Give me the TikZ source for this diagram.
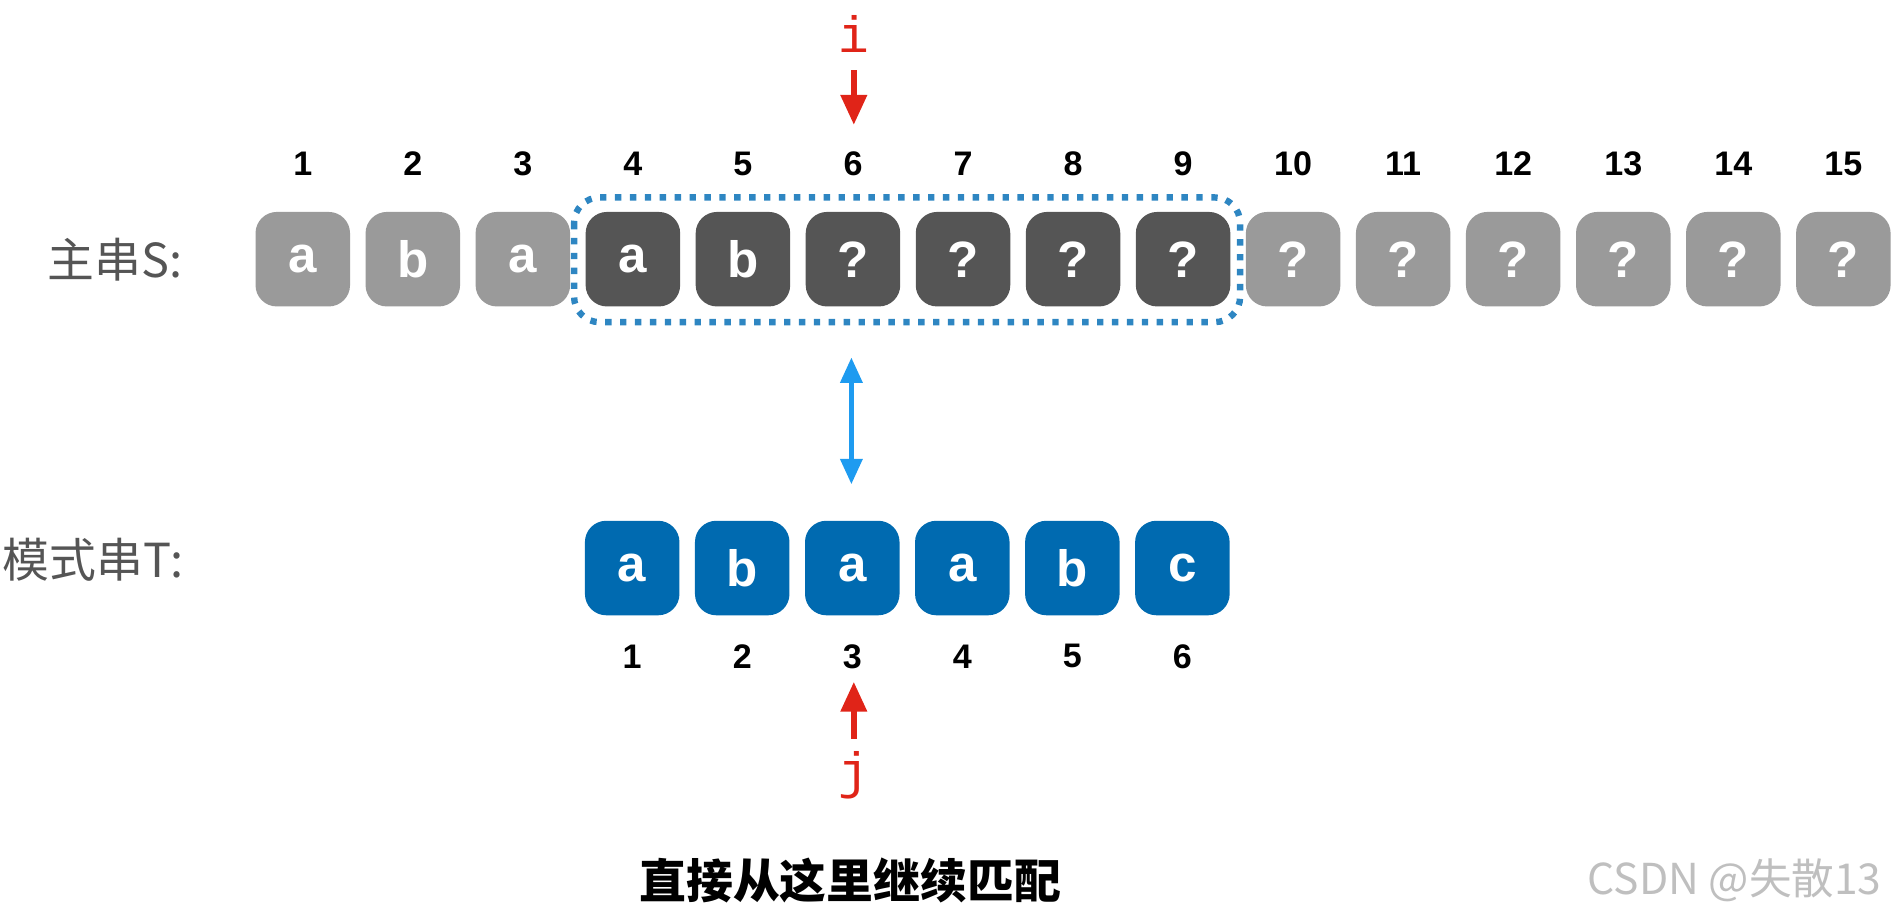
\documentclass[tikz,border=0pt]{standalone}
\usepackage{fontspec}
\setmainfont{Liberation Sans}
\newfontfamily\cjk{Noto Sans CJK SC}
\newfontfamily\cour{Liberation Mono}
\usetikzlibrary{arrows.meta}
\definecolor{lightgrey}{HTML}{9A9A9A}
\definecolor{darkgrey}{HTML}{555555}
\definecolor{patblue}{HTML}{006AB0}
\definecolor{ptrred}{HTML}{E02418}
\definecolor{linkblue}{HTML}{1E9BF0}
\tikzset{
  cell/.style={rounded corners=5pt, minimum width=0.78cm, minimum height=0.78cm,
    inner sep=0pt, text=white, font=\fontsize{12}{12}\selectfont\bfseries},
  idx/.style={font=\fontsize{8}{8}\selectfont\bfseries},
  ptr/.style={text=ptrred, font=\cour\fontsize{12}{12}\selectfont},
}
\begin{document}
\begin{tikzpicture}[x=0.01cm, y=-0.01cm]
  \useasboundingbox (0,0) rectangle (1568,753);

  % main string S
  \node[font=\cjk\fontsize{11}{11}\selectfont, text=darkgrey] (slabel) at (95,214) {主串S:};
  \foreach \k/\c in {1/a,2/b,3/a,4/a,5/b,6/?,7/?,8/?,9/?,10/?,11/?,12/?,13/?,14/?,15/?} {
    \ifnum\k<4 \def\col{lightgrey}\else\ifnum\k<10 \def\col{darkgrey}\else\def\col{lightgrey}\fi\fi
    \node[cell, fill=\col] (s\k) at ({250+90.86*(\k-1)},214) {\c};
    \node[idx] (sn\k) at ({250+90.86*(\k-1)},135) {\k};
  }
  \draw[linkblue!70!darkgrey, line width=1.5pt, dotted, rounded corners=6pt]
    (474,163) rectangle (1024,266);

  % pattern T
  \node[font=\cjk\fontsize{11}{11}\selectfont, text=darkgrey] (tlabel) at (77,462) {模式串T:};
  \foreach \k/\c in {1/a,2/b,3/a,4/a,5/b,6/c} {
    \node[cell, fill=patblue] (t\k) at ({522+90.86*(\k-1)},469) {\c};
    \node[idx] (tn\k) at ({522+90.86*(\k-1)},542) {\k};
  }

  % pointers
  \node[ptr] (i) at (705,28) {i};
  \coordinate (itop) at (705,58);
  \coordinate (ibot) at (705,103);
  \draw[ptrred, line width=1.3pt, -{Triangle[length=7pt,width=6pt]}] (itop) -- (ibot);
  \node[ptr] (j) at (705,640) {j};
  \coordinate (jbot) at (705,610);
  \coordinate (jtop) at (705,563);
  \draw[ptrred, line width=1.3pt, -{Triangle[length=7pt,width=6pt]}] (jbot) -- (jtop);
  \coordinate (ltop) at (703,295);
  \coordinate (lbot) at (703,400);
  \draw[linkblue, line width=1.3pt, {Triangle[length=6pt,width=5pt]}-{Triangle[length=6pt,width=5pt]}] (ltop) -- (lbot);

  \node[font=\cjk\fontsize{11}{11}\selectfont\bfseries] (note) at (702,727) {直接从这里继续匹配};
  \node[font=\cjk\fontsize{10}{10}\selectfont, text=black!25, anchor=east] (mark) at (1566,727) {CSDN @失散13};
\end{tikzpicture}
\end{document}
